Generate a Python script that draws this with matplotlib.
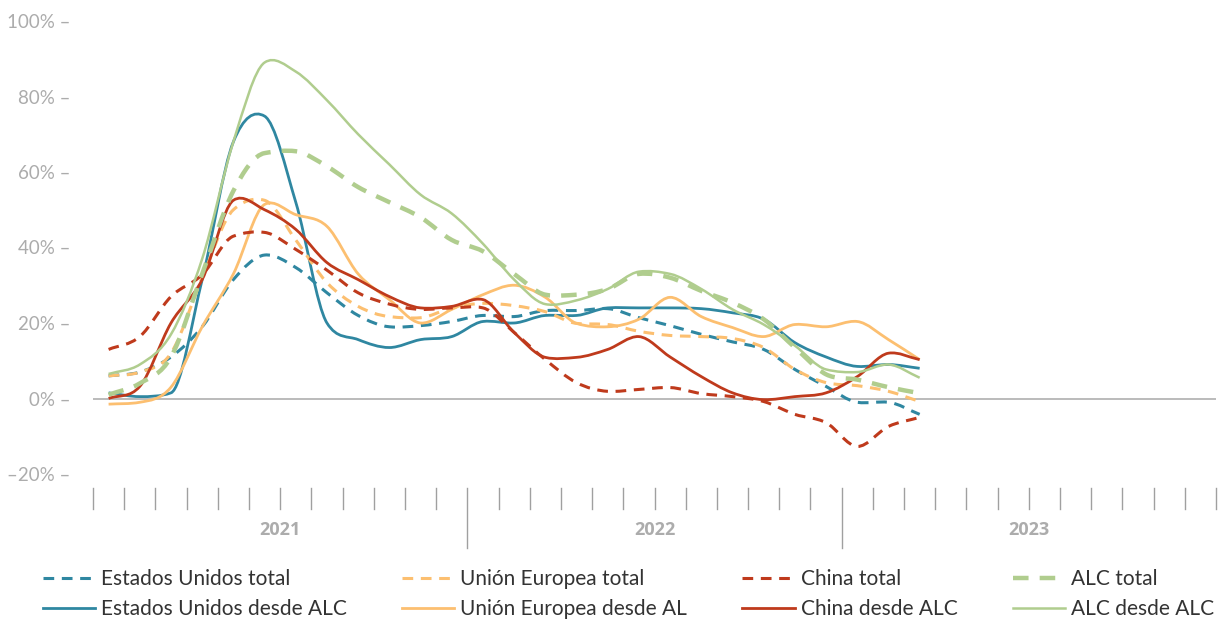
import matplotlib
matplotlib.use("Agg")
import matplotlib.pyplot as plt
from matplotlib.path import Path
from matplotlib.patches import PathPatch
from matplotlib.lines import Line2D
import numpy as np

plt.rcParams['font.family'] = ['Lato', 'DejaVu Sans']

# monthly values, Jan 2021 .. Mar 2023 (%)
eeuu_total = [6, 7, 11, 19, 31.5, 38, 34.7, 28, 22, 19, 19.3, 20.4, 22, 21.7, 23.3,
              23.3, 23.8, 21.4, 19.3, 17, 15, 13, 7.7, 3.2, -1, -1, -4.2]
eeuu_alc = [1.5, 0.5, 1.5, 31.5, 68, 74.8, 52, 20, 15.6, 13.5, 15.6, 16.4, 20.4, 20, 22,
            22, 24, 24, 24, 23.8, 22.7, 21, 14.8, 11, 8.5, 9, 8]
ue_total = [6, 7, 12, 32, 50, 52.5, 42, 30.7, 24.4, 21.7, 21.4, 24, 25.2, 24.6, 23,
            19.9, 19.6, 17.8, 16.7, 16.4, 15.9, 13.5, 7.7, 4.2, 3.4, 1.9, -0.8]
ue_al = [-1.5, -1, 3, 19, 33, 51.4, 48.7, 45.6, 33, 26.2, 20, 23.6, 27.5, 30, 26.8,
         19.9, 19, 21, 26.8, 21.7, 18.8, 16.4, 19.6, 19, 20.4, 15.6, 10.3]
china_total = [13, 16.4, 27, 32.8, 43, 44, 39.5, 34, 28, 25, 23.6, 24, 24, 17.5, 10.3,
               4.2, 1.9, 2.4, 2.9, 1.3, 0.5, -0.8, -4.2, -6.4, -12.7, -7.4, -5]
china_alc = [0, 3.2, 20, 31.5, 52.5, 50, 44.8, 36, 31.5, 27, 24, 24.4, 26.2, 17.5, 10.9,
             10.9, 13, 16.4, 11, 5.8, 1.5, -0.3, 0.5, 1.5, 5.8, 12, 10.3]
alc_total = [1, 4, 11, 33, 55, 65, 65.5, 61.5, 56, 52, 48, 42, 39, 33, 27.5,
             27.5, 29, 33, 32, 28.5, 25.4, 21, 13.5, 6.4, 5, 3, 1.4]
alc_alc = [6.5, 9, 17, 37, 68, 89, 86.6, 79, 70, 62, 54, 49, 41, 31.5, 25,
           26, 29, 33.6, 33, 29, 23.6, 19.6, 14, 7.7, 7, 9, 5.5]

years = ['2021', '2022', '2023']
yticks = [-20, 0, 20, 40, 60, 80, 100]

teal = '#2f87a1'
orange = '#fcbf70'
red = '#bf3a1c'
green = '#b0cd8e'

dash = (0, (3.5, 2.5))
series = [
    ('Estados Unidos total', eeuu_total, teal, dash, 2.2),
    ('Estados Unidos desde ALC', eeuu_alc, teal, '-', 2.0),
    ('Unión Europea total', ue_total, orange, dash, 2.2),
    ('Unión Europea desde AL', ue_al, orange, '-', 2.0),
    ('China total', china_total, red, dash, 2.2),
    ('China desde ALC', china_alc, red, '-', 2.0),
    ('ALC total', alc_total, green, dash, 3.2),
    ('ALC desde ALC', alc_alc, green, '-', 1.8),
]


def smooth_path(x, y):
    # central-difference tangents, clamped where the data is monotone,
    # drawn as bezier segments
    y = np.asarray(y, float)
    d = np.diff(y)
    m = np.zeros_like(y)
    m[0], m[-1] = d[0], d[-1]
    for k in range(1, len(y) - 1):
        c = (d[k - 1] + d[k]) / 2.0
        if d[k - 1] * d[k] > 0:
            lim = 3 * min(abs(d[k - 1]), abs(d[k]))
            c = np.sign(c) * min(abs(c), lim)
        else:
            c = c * 0.6
        m[k] = c
    verts = [(x[0], y[0])]
    codes = [Path.MOVETO]
    for k in range(len(y) - 1):
        verts += [(x[k] + 1 / 3, y[k] + m[k] / 3),
                  (x[k + 1] - 1 / 3, y[k + 1] - m[k + 1] / 3),
                  (x[k + 1], y[k + 1])]
        codes += [Path.CURVE4] * 3
    return Path(verts, codes)


fig = plt.figure(figsize=(12.25, 6.2), dpi=100)
ax = fig.add_axes([93 / 1225, 1 - 474 / 620, (1216 - 93) / 1225, 453 / 620])

ax.axhline(0, color='#a8a8a8', lw=1.1, zorder=1)

handles = []
for name, vals, col, ls, lw in series:
    x = np.arange(len(vals)) + 0.5
    patch = PathPatch(smooth_path(x, vals), fill=False, edgecolor=col,
                      linewidth=lw, linestyle=ls, capstyle='butt', zorder=3)
    ax.add_patch(patch)
    handles.append(Line2D([], [], color=col, lw=lw, ls=ls))

ax.set_xlim(0, 36)
ax.set_ylim(-20, 100)
for s in ax.spines.values():
    s.set_visible(False)

ax.set_yticks(yticks)
ax.set_yticklabels([(f'{v}%' if v >= 0 else f'–{abs(v)}%') + ' –' for v in yticks])
ax.tick_params(axis='y', length=0, pad=16, labelsize=13.5, labelcolor='#acacac')
ax.set_xticks([])

# month ticks and year separators under the plot
tr = ax.get_xaxis_transform()
for k in range(37):
    if k in (12, 24):
        ax.plot([k, k], [-0.031, -0.163], transform=tr, color='#a0a0a0', lw=1, clip_on=False)
    else:
        ax.plot([k, k], [-0.031, -0.077], transform=tr, color='#a0a0a0', lw=1, clip_on=False)
for i, yr in enumerate(years):
    ax.text(i * 12 + 6, -0.124, yr, transform=tr, ha='center', va='center',
            fontsize=13, fontweight='bold', color='#acacac',
            family=['Open Sans', 'DejaVu Sans'])

labels = [s[0] for s in series]
fig.legend(handles, labels, ncol=4, loc='center left', bbox_to_anchor=(28 / 1225, 1 - 594 / 620),
           frameon=False, fontsize=15, handlelength=2.5, handletextpad=0.3,
           columnspacing=2.65, labelspacing=0.5, borderpad=0.2, labelcolor='#333333')

fig.savefig('out.png', dpi=100)
